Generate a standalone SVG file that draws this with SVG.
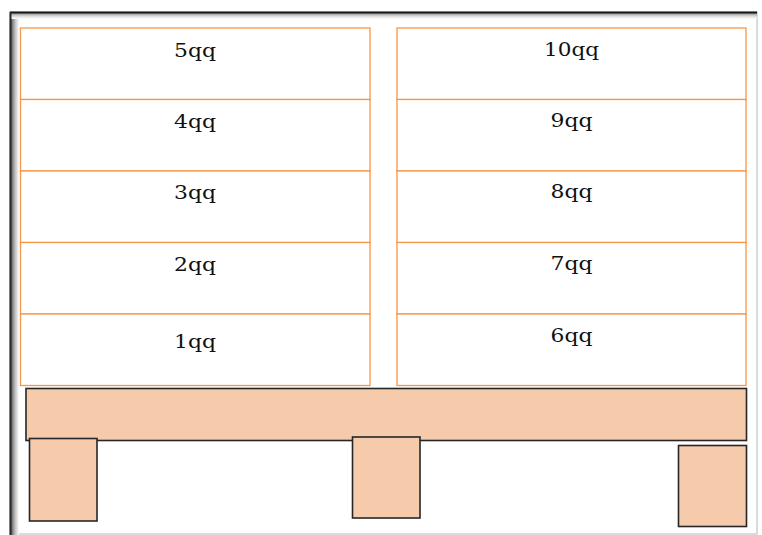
<svg xmlns="http://www.w3.org/2000/svg" width="762" height="535" viewBox="0 0 762 535">
<defs>
<linearGradient id="gl" x1="0" y1="0" x2="1" y2="0"><stop offset="0" stop-color="#5a5a5a"/><stop offset="0.5" stop-color="#bdbdbd"/><stop offset="1" stop-color="#ffffff"/></linearGradient>
<linearGradient id="gt" x1="0" y1="0" x2="0" y2="1"><stop offset="0" stop-color="#8a8a8a"/><stop offset="0.5" stop-color="#d8d8d8"/><stop offset="1" stop-color="#ffffff"/></linearGradient>
<style>
.cell{fill:#ffffff;stroke:#F79646;stroke-width:1.3}
.wood{fill:#F5CBAB;stroke:#262626;stroke-width:1.6}
.lbl{font-family:"DejaVu Serif","Liberation Serif",serif;font-size:19px;fill:#111;text-anchor:middle}
</style>
</defs>
<rect x="0" y="0" width="762" height="535" fill="#ffffff"/>
<g id="frame">
<rect x="10" y="12" width="747" height="522" fill="#ffffff" stroke="#d0d0d0" stroke-width="1.5"/>
<rect x="11" y="13" width="8" height="522" fill="url(#gl)"/>
<rect x="11" y="13" width="746" height="6" fill="url(#gt)"/>
<line x1="10" y1="12.5" x2="757" y2="12.5" stroke="#1a1a1a" stroke-width="2"/>
<line x1="10.5" y1="12" x2="10.5" y2="535" stroke="#2a2a2a" stroke-width="2"/>
</g>
<g id="left-stack">
<g id="n5"><rect class="cell" x="20.5" y="28" width="349.5" height="71.5"/><text class="lbl" x="195" y="57" textLength="42" lengthAdjust="spacingAndGlyphs">5qq</text></g>
<g id="n4"><rect class="cell" x="20.5" y="99.5" width="349.5" height="71.5"/><text class="lbl" x="195" y="128" textLength="42" lengthAdjust="spacingAndGlyphs">4qq</text></g>
<g id="n3"><rect class="cell" x="20.5" y="171" width="349.5" height="71.5"/><text class="lbl" x="195" y="199" textLength="42" lengthAdjust="spacingAndGlyphs">3qq</text></g>
<g id="n2"><rect class="cell" x="20.5" y="242.5" width="349.5" height="71.5"/><text class="lbl" x="195" y="271" textLength="42" lengthAdjust="spacingAndGlyphs">2qq</text></g>
<g id="n1"><rect class="cell" x="20.5" y="314" width="349.5" height="71.5"/><text class="lbl" x="195" y="348" textLength="42" lengthAdjust="spacingAndGlyphs">1qq</text></g>
</g>
<g id="right-stack">
<g id="n10"><rect class="cell" x="397" y="28" width="349" height="71.5"/><text class="lbl" x="571.5" y="56" textLength="55" lengthAdjust="spacingAndGlyphs">10qq</text></g>
<g id="n9"><rect class="cell" x="397" y="99.5" width="349" height="71.5"/><text class="lbl" x="571.5" y="127" textLength="42" lengthAdjust="spacingAndGlyphs">9qq</text></g>
<g id="n8"><rect class="cell" x="397" y="171" width="349" height="71.5"/><text class="lbl" x="571.5" y="198" textLength="42" lengthAdjust="spacingAndGlyphs">8qq</text></g>
<g id="n7"><rect class="cell" x="397" y="242.5" width="349" height="71.5"/><text class="lbl" x="571.5" y="270" textLength="42" lengthAdjust="spacingAndGlyphs">7qq</text></g>
<g id="n6"><rect class="cell" x="397" y="314" width="349" height="71.5"/><text class="lbl" x="571.5" y="342" textLength="42" lengthAdjust="spacingAndGlyphs">6qq</text></g>
</g>
<g id="pallet">
<g id="deck"><rect class="wood" x="26" y="388.5" width="720.5" height="52"/></g>
<g id="foot-left"><rect class="wood" x="29.5" y="438.5" width="67.5" height="82.5"/></g>
<g id="foot-middle"><rect class="wood" x="352.5" y="437" width="67.5" height="81"/></g>
<g id="foot-right"><rect class="wood" x="678.5" y="445.5" width="68" height="81"/></g>
</g>
<g id="connectors"/>
</svg>
